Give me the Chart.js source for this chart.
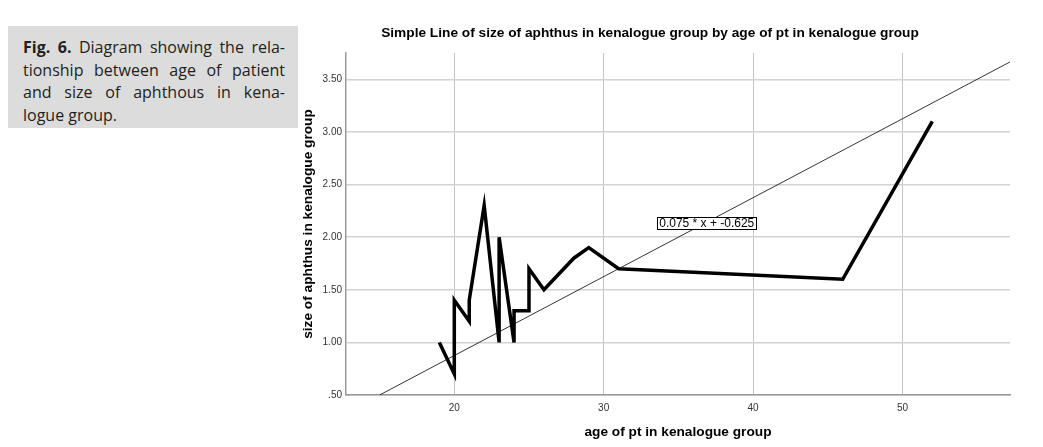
<!DOCTYPE html>
<html>
<head>
<meta charset="utf-8">
<script src="https://cdn.jsdelivr.net/npm/chart.js@4/dist/chart.umd.min.js"></script>
<style>
  body { margin: 0; background: #fff; }
  #wrap { position: absolute; left: 0; top: 0; width: 1043px; height: 447px; }
  .caption {
    position: absolute; left: 8px; top: 26px; width: 290px; height: 102px;
    background: #dcdcdc; box-sizing: border-box; padding: 10px 13px 0 15px;
    font-family: 'Open Sans', sans-serif; font-size: 16px; color: #231f20;
  }
  .caption div { line-height: 22.5px; text-align: justify; text-align-last: justify; }
  .caption div.last { text-align-last: left; }
  .caption b { font-weight: 700; }
</style>
</head>
<body>
<div id="wrap"><canvas id="line-chart"></canvas></div>
<div class="caption">
  <div><b>Fig. 6.</b> Diagram showing the rela-</div>
  <div>tionship between age of patient</div>
  <div>and size of aphthous in kena-</div>
  <div class="last">logue group.</div>
</div>
<script>
// data
const ages = [19, 20, 20, 21, 21, 22, 23, 23, 24, 24, 25, 25, 26, 28, 29, 31, 46, 52];
const sizes = [1.0, 0.7, 1.4, 1.2, 1.4, 2.3, 1.0, 2.0, 1.0, 1.3, 1.3, 1.7, 1.5, 1.8, 1.9, 1.7, 1.6, 3.1];

// fit line end points and its label
const fitAges = [15, 57.2];
const fitSizes = [0.5, 3.665];
const fitLabel = '0.075 * x + -0.625';
const fitLabelAt = [36.9, 2.13];

const xTicks = [20, 30, 40, 50];
const yTicks = [0.5, 1.0, 1.5, 2.0, 2.5, 3.0, 3.5];

const chartTitle = 'Simple Line of size of aphthus in kenalogue group by age of pt in kenalogue group';
const xTitle = 'age of pt in kenalogue group';
const yTitle = 'size of aphthus in kenalogue group';

const textFont = "bold 13.7px 'Liberation Sans', Arial, sans-serif";

// titles and the fit label box
const labelsPlugin = {
    id: 'labels',
    afterDraw(chart) {
        const c = chart.ctx;
        const area = chart.chartArea;
        const x = chart.scales.x;
        const y = chart.scales.y;
        c.save();
        c.fillStyle = '#000';
        c.font = textFont;
        c.textAlign = 'center';
        c.textBaseline = 'middle';
        c.fillText(chartTitle, 650, 33);
        c.fillText(xTitle, (area.left + area.right) / 2, 432);
        c.save();
        c.translate(308, (area.top + area.bottom) / 2);
        c.rotate(-Math.PI / 2);
        c.fillText(yTitle, 0, 0);
        c.restore();

        // fit label
        c.font = "12px 'Liberation Sans', Arial, sans-serif";
        const px = x.getPixelForValue(fitLabelAt[0]);
        const py = y.getPixelForValue(fitLabelAt[1]);
        const w = c.measureText(fitLabel).width + 4;
        c.fillStyle = '#fff';
        c.fillRect(px - w / 2, py - 6, w, 12);
        c.strokeStyle = '#000';
        c.lineWidth = 1;
        c.strokeRect(Math.round(px - w / 2) + 0.5, Math.round(py - 6) + 0.5, Math.round(w), 12);
        c.fillStyle = '#000';
        c.fillText(fitLabel, px, py + 0.5);
        c.restore();
    }
};

const ctx = document.getElementById('line-chart');

const chart = new Chart(ctx, {
type: 'scatter',
data: {
    datasets: [{
        label: 'size',
        data: ages.map((a, i) => ({ x: a, y: sizes[i] })),
        showLine: true,
        borderColor: '#000',
        borderWidth: 3.5,
        pointRadius: 0,
        tension: 0,
        order: 1
    }, {
        label: 'fit',
        data: fitAges.map((a, i) => ({ x: a, y: fitSizes[i] })),
        showLine: true,
        borderColor: '#000',
        borderWidth: 0.8,
        pointRadius: 0,
        order: 2
    }]
},
options: {
    responsive: true,
    maintainAspectRatio: false,
    animation: false,
    layout: {
        padding: { top: 53, right: 33, left: 0, bottom: 0 }
    },
    plugins: {
        legend: { display: false },
        tooltip: { enabled: false }
    },
    scales: {
        x: {
            type: 'linear',
            min: 12.75,
            max: 57.2,
            afterBuildTicks: s => { s.ticks = xTicks.map(v => ({ value: v })); },
            afterFit: s => { s.height = 52; },
            grid: { color: '#c4c4c4', lineWidth: 1, drawTicks: false },
            border: { color: '#999', width: 1.5 },
            ticks: {
                padding: 7,
                color: '#333',
                font: { family: "'Liberation Sans Narrow', 'Liberation Sans', Arial", size: 10 }
            }
        },
        y: {
            min: 0.5,
            max: 3.75,
            afterBuildTicks: s => { s.ticks = yTicks.map(v => ({ value: v })); },
            afterFit: s => { s.width = 346; },
            grid: { color: '#d2d2d2', lineWidth: 1.5, drawTicks: false },
            border: { color: '#999', width: 1.5 },
            ticks: {
                padding: 4,
                color: '#333',
                font: { family: "'Liberation Sans Narrow', 'Liberation Sans', Arial", size: 10 },
                callback: v => v < 1 ? v.toFixed(2).slice(1) : v.toFixed(2)
            }
        }
    }
},
plugins: [labelsPlugin]
});
</script>
</body>
</html>
